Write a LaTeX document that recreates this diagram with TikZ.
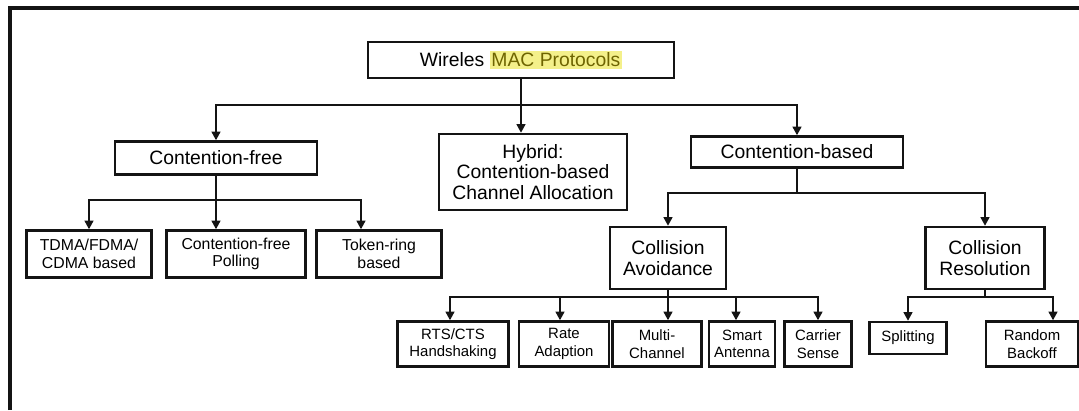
\documentclass[tikz,border=0pt]{standalone}
\usepackage{fontspec}
\setmainfont{Liberation Sans}
\usepackage{xcolor,tikz}
\usetikzlibrary{positioning,calc,arrows.meta}
\definecolor{macLine}{HTML}{141414}
\definecolor{macHiFill}{HTML}{F4F08A}
\definecolor{macHiText}{HTML}{6E6400}

\begin{document}
\begin{tikzpicture}[x=0.02cm, y=-0.02cm,
  box/.style={draw=macLine, line width=1.35pt, inner sep=1pt, align=center,
    font=\fontsize{11}{11.5}\selectfont},
  leafbox/.style={box, font=\fontsize{9}{10}\selectfont},
  tinybox/.style={box, font=\fontsize{8.5}{10}\selectfont},
  sz/.style 2 args={minimum width=#1*0.02cm, minimum height=#2*0.02cm},
  arr/.style={draw=macLine, line width=1.3pt,
    -{Triangle[length=5pt,width=5pt]}},
  frameline/.style={draw=macLine, line width=1.8pt}]

% --- CANVAS (page is 1079 x 410 px) ---
\useasboundingbox (0,0) rectangle (1079,410);
\draw[frameline] (10,410) -- (10,8) -- (1079,8);

% --- ROOT ---
\node[box, sz={306}{36}] (root) at (521,60)
  {Wireles {\setlength{\fboxsep}{1pt}\colorbox{macHiFill}{\color{macHiText}MAC Protocols}}};

% --- FIRST LEVEL ---
\node[box, sz={202}{33}] (cfree)  at (216,158) {Contention-free};
\node[box, sz={188}{76}] (hyb)    at (533,172)
  {Hybrid:\\Contention-based\\Channel Allocation};
\node[box, sz={212}{31}] (cbased) at (797,152) {Contention-based};

% --- CONTENTION-FREE LEAVES ---
\node[leafbox, sz={125}{47}] (tdma)  at (89,254)  {TDMA/FDMA/\\CDMA based};
\node[leafbox, sz={139}{47}] (poll)  at (236,254) {Contention-free\\Polling};
\node[leafbox, sz={125}{47}] (token) at (379,254) {Token-ring\\based};

% --- CONTENTION-BASED BRANCHES ---
\node[box, sz={116}{62}] (colav)  at (668,258) {Collision\\Avoidance};
\node[box, sz={119}{62}] (colres) at (985,258) {Collision\\Resolution};

% --- BOTTOM LEAVES ---
\node[tinybox, sz={111}{45}] (rts)     at (453,344) {RTS/CTS\\Handshaking};
\node[tinybox, sz={90}{45}]  (rate)    at (564,344) {Rate\\Adaption};
\node[tinybox, sz={89}{45}]  (multi)   at (657,344) {Multi-\\Channel};
\node[tinybox, sz={66}{45}]  (smart)   at (742,344) {Smart\\Antenna};
\node[tinybox, sz={67}{45}]  (carrier) at (818,344) {Carrier\\Sense};
\node[tinybox, sz={77}{32}]  (split)   at (908,338) {Splitting};
\node[tinybox, sz={92}{45}]  (backoff) at (1032,344) {Random\\Backoff};

% --- CONNECTORS ---
\coordinate (jMain) at (root.south |- 0,105);
\draw[arr] (root.south) -- (root.south |- hyb.north);
\draw[arr] (jMain) -| (cfree.north);
\draw[arr] (jMain) -| (cbased.north);

\coordinate (jFree) at (cfree.south |- 0,200);
\draw[arr] (cfree.south) -- (cfree.south |- poll.north);
\draw[arr] (jFree) -| (tdma.north);
\draw[arr] (jFree) -| ([xshift=-18*0.02cm]token.north);

\coordinate (jBased) at (cbased.south |- 0,193);
\draw[macLine, line width=1.3pt] (cbased.south) -- (jBased);
\draw[arr] (jBased) -| (colav.north);
\draw[arr] (jBased) -| (colres.north);

\coordinate (jAvoid) at (colav.south |- 0,297);
\draw[arr] (colav.south) -- (colav.south |- multi.north);
\draw[arr] (jAvoid) -| ([xshift=-3*0.02cm]rts.north);
\draw[arr] (jAvoid) -| ([xshift=-4*0.02cm]rate.north);
\draw[arr] (jAvoid) -| ([xshift=-6*0.02cm]smart.north);
\draw[arr] (jAvoid) -| (carrier.north);

\coordinate (jRes) at (colres.south |- 0,297);
\draw[macLine, line width=1.3pt] (colres.south) -- (jRes);
\draw[arr] (jRes) -| (split.north);
\draw[arr] (jRes) -| ([xshift=21*0.02cm]backoff.north);

\end{tikzpicture}
\end{document}
